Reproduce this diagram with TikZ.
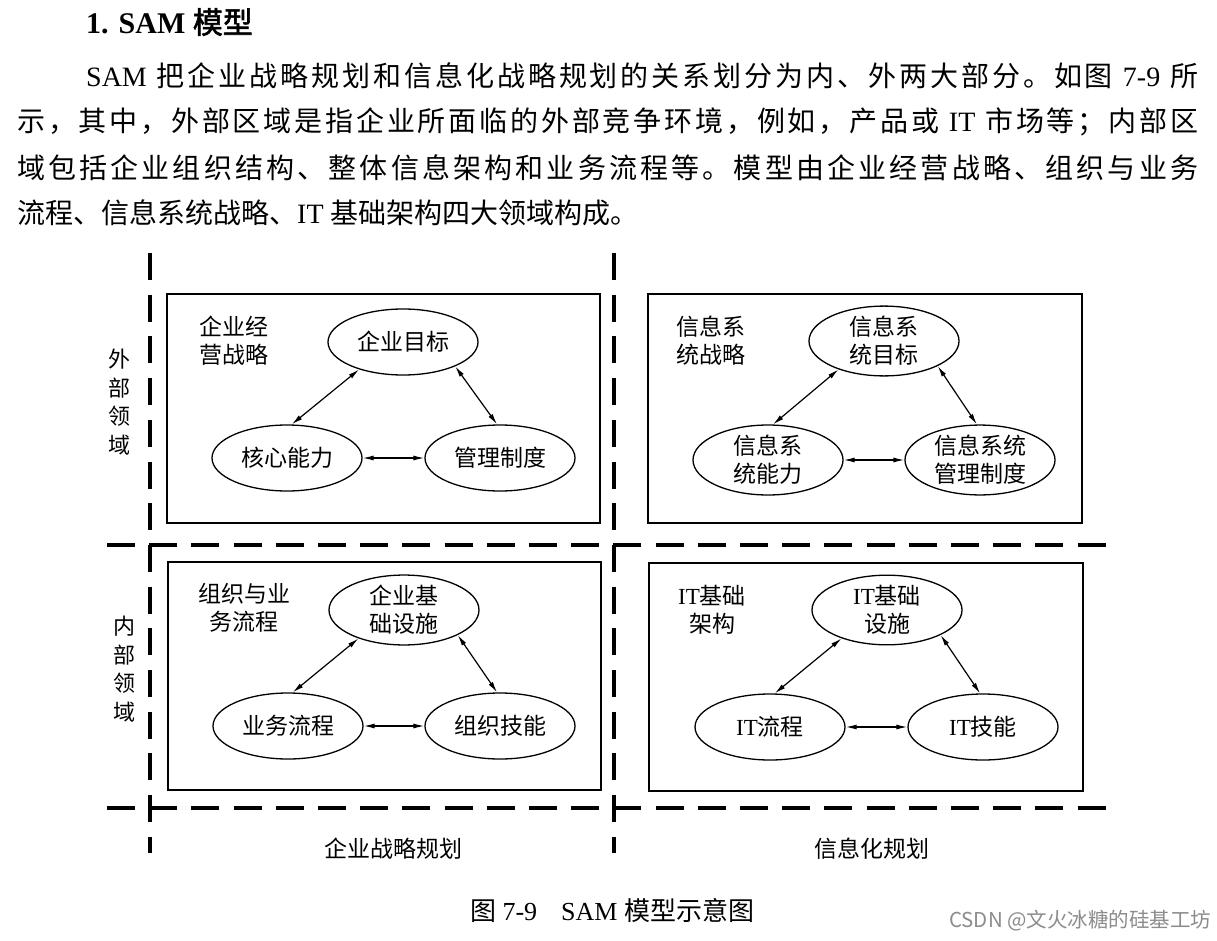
\documentclass[tikz,border=0pt]{standalone}
\usepackage{fontspec}
\setmainfont{Liberation Serif}
\newfontfamily\cjk{Noto Sans CJK SC}[AutoFakeBold=2]
\usetikzlibrary{shapes.geometric,arrows.meta}
\definecolor{wmgray}{RGB}{140,140,140}
\ExplSyntaxOn
\NewDocumentCommand\sj{m}{ {\cjk \tl_map_inline:nn {#1} { ##1 \hskip 0pt plus 1pt } \unskip } }
\ExplSyntaxOff
\newcommand\gp{\hskip 7pt plus 1pt\relax}
\begin{document}
\begin{tikzpicture}[x=1pt,y=-1pt,
  ell/.style={ellipse, draw, line width=1.3pt, minimum width=150pt, minimum height=66pt,
    inner sep=0pt, align=center, font=\cjk\fontsize{23}{28}\selectfont},
  panel/.style={draw, line width=1.5pt, anchor=north west, inner sep=0pt},
  lbl/.style={align=center, inner sep=0pt, font=\cjk\fontsize{23}{28}\selectfont},
  vlbl/.style={align=center, inner sep=0pt, font=\cjk\fontsize{22}{28.5}\selectfont},
  para/.style={anchor=west, inner sep=0pt, font=\fontsize{28}{30}\selectfont},
  dline/.style={line width=3.6pt},
  biarrow/.style={{Latex[length=11pt,width=5pt]}-{Latex[length=11pt,width=5pt]}, line width=1.2pt},
]
\useasboundingbox (0,0) rectangle (1217,941);
\fill[white] (0,0) rectangle (1217,941);

% heading and paragraph
\node[anchor=west, inner sep=0pt, font=\bfseries\fontsize{30}{32}\selectfont] (head) at (86,22) {1. SAM {\cjk 模型}};
\node[para] (pl1) at (86,76) {\makebox[1112pt][s]{SAM\gp\sj{把企业战略规划和信息化战略规划的关系划分为内、外两大部分。如图}\gp 7-9\gp\sj{所}}};
\node[para] (pl2) at (17,122) {\makebox[1181pt][s]{\sj{示，其中，外部区域是指企业所面临的外部竞争环境，例如，产品或}\gp IT\gp\sj{市场等；内部区}}};
\node[para] (pl3) at (17,168) {\makebox[1181pt][s]{\sj{域包括企业组织结构、整体信息架构和业务流程等。模型由企业经营战略、组织与业务}}};
\node[para] (pl4) at (17,213) {{\cjk 流程、信息系统战略、}IT {\cjk 基础架构四大领域构成。}};

% dashed grid
\coordinate (vaT) at (150,253); \coordinate (vaB) at (150,853);
\coordinate (vbT) at (614,253); \coordinate (vbB) at (614,853);
\coordinate (haL) at (107,545); \coordinate (haR) at (1115,545);
\coordinate (hbL) at (107,808); \coordinate (hbR) at (1115,808);
\draw[dline, dash pattern=on 27pt off 14.7pt] (vaT) -- (vaB);
\draw[dline, dash pattern=on 27pt off 14.7pt] (vbT) -- (vbB);
\draw[dline, dash pattern=on 28pt off 14.2pt] (haL) -- (haR);
\draw[dline, dash pattern=on 28pt off 14.2pt] (hbL) -- (hbR);

% panels
\node[panel, minimum width=433pt, minimum height=229pt] (b1) at (166,293) {};
\node[panel, minimum width=434pt, minimum height=229pt] (b2) at (647,293) {};
\node[panel, minimum width=433pt, minimum height=228pt] (b3) at (167,561) {};
\node[panel, minimum width=434pt, minimum height=228pt] (b4) at (648,562) {};

% panel labels
\node[lbl] (n1) at (234,341) {企业经\\营战略};
\node[lbl] (n2) at (711,341) {信息系\\统战略};
\node[lbl] (n3) at (244,608) {组织与业\\务流程};
\node[lbl] (n4) at (712,610) {{\rmfamily IT}基础\\架构};

% ellipses
\node[ell] (t1) at (403,342) {企业目标};
\node[ell] (l1) at (287,458) {核心能力};
\node[ell] (r1) at (500,458) {管理制度};
\node[ell] (t2) at (884,341) {信息系\\统目标};
\node[ell] (l2) at (768,460) {信息系\\统能力};
\node[ell] (r2) at (980,460) {信息系统\\管理制度};
\node[ell] (t3) at (404,610) {企业基\\础设施};
\node[ell] (l3) at (288,726) {业务流程};
\node[ell] (r3) at (500,726) {组织技能};
\node[ell] (t4) at (887,610) {{\rmfamily IT}基础\\设施};
\node[ell] (l4) at (770,727) {{\rmfamily IT}流程};
\node[ell] (r4) at (983,727) {{\rmfamily IT}技能};

% arrows
\foreach \i in {1,2,3,4}{
  \draw[biarrow] (t\i.212) -- (l\i.82);
  \draw[biarrow] (t\i.-25) -- (r\i.95);
  \draw[biarrow] (l\i.east) -- (r\i.west);
}

% side and bottom labels
\node[vlbl] (ext) at (119,402) {外\\部\\领\\域};
\node[vlbl] (int) at (124,669) {内\\部\\领\\域};
\node[lbl] (pa) at (393,849) {企业战略规划};
\node[lbl] (pb) at (872,849) {信息化规划};

% caption and watermark
\node[inner sep=0pt, font=\fontsize{26}{28}\selectfont] (cap) at (612,910) {{\cjk 图} 7-9\hspace{24pt}SAM {\cjk 模型示意图}};
\node[anchor=west, inner sep=0pt, text=wmgray, font=\cjk\fontsize{20.5}{22}\selectfont] (wm) at (949,921) {CSDN @文火冰糖的硅基工坊};
\end{tikzpicture}
\end{document}
